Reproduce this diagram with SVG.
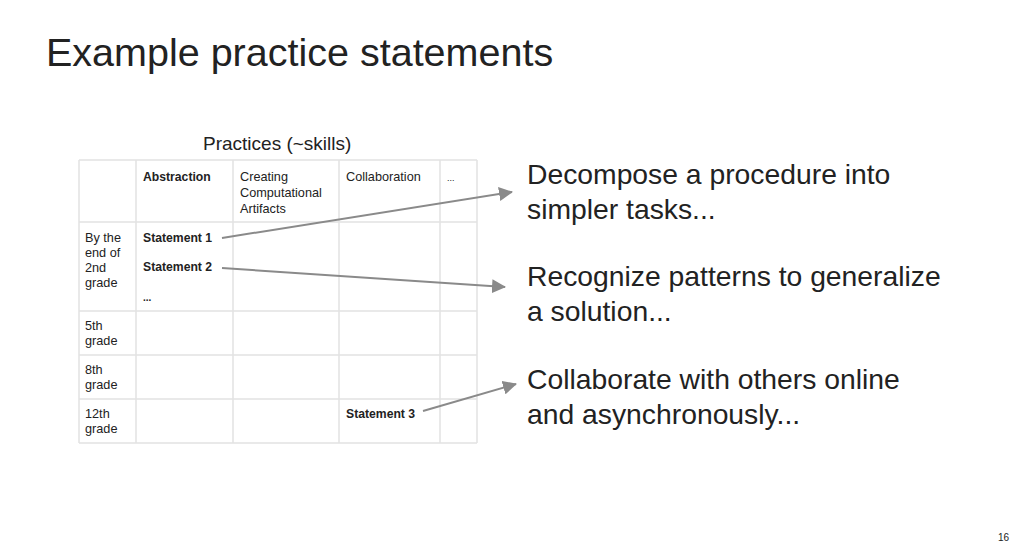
<svg xmlns="http://www.w3.org/2000/svg" width="1024" height="549" viewBox="0 0 1024 549">
<style>
text{font-family:"Liberation Sans",Arial,sans-serif;fill:#222}
.c{font-size:12.7px}
.b{font-size:12.2px;font-weight:bold}
.big{font-size:28.3px}
.g line{stroke:#e2e2e2;stroke-width:1.5}
.conn line{stroke:#8a8a8a;stroke-width:2}
</style>
<defs>
<marker id="ah" markerWidth="14" markerHeight="14" refX="13" refY="7" orient="auto" markerUnits="userSpaceOnUse" viewBox="0 0 14 14"><path d="M0,0L14,7L0,14z" fill="#8a8a8a"/></marker></defs>
<rect width="1024" height="549" fill="#fff"/>
<text x="46" y="66" style="font-size:39.5px">Example practice statements</text>
<text x="203" y="150" style="font-size:19px">Practices (~skills)</text>
<g id="table" class="g">
<line x1="79" y1="160" x2="477" y2="160"/><line x1="79" y1="222" x2="477" y2="222"/><line x1="79" y1="311" x2="477" y2="311"/><line x1="79" y1="355" x2="477" y2="355"/><line x1="79" y1="399" x2="477" y2="399"/><line x1="79" y1="443" x2="477" y2="443"/>
<line x1="79" y1="160" x2="79" y2="443"/><line x1="136" y1="160" x2="136" y2="443"/><line x1="233" y1="160" x2="233" y2="443"/><line x1="339" y1="160" x2="339" y2="443"/><line x1="440" y1="160" x2="440" y2="443"/><line x1="477" y1="160" x2="477" y2="443"/>
</g>
<g id="headers">
<text x="143" y="181" class="b">Abstraction</text>
<text x="240" y="181" class="c">Creating</text><text x="240" y="197" class="c">Computational</text><text x="240" y="213" class="c">Artifacts</text>
<text x="346" y="181" class="c">Collaboration</text>
<text x="447" y="181" class="c" style="font-size:9px">...</text>
</g>
<g id="rows" class="c">
<text x="85" y="242">By the</text><text x="85" y="257">end of</text><text x="85" y="272">2nd</text><text x="85" y="287">grade</text>
<text x="85" y="330">5th</text><text x="85" y="345">grade</text>
<text x="85" y="374">8th</text><text x="85" y="389">grade</text>
<text x="85" y="418">12th</text><text x="85" y="433">grade</text>
</g>
<g id="s1"><text x="143" y="242" class="b">Statement 1</text></g>
<g id="s2"><text x="143" y="271" class="b">Statement 2</text></g>
<text x="143" y="301" class="b" style="font-size:10px">...</text>
<g id="s3"><text x="346" y="418" class="b">Statement 3</text></g>
<g id="d1"><text x="527" y="184" class="big">Decompose a procedure into</text><text x="527" y="219" class="big">simpler tasks...</text></g>
<g id="d2"><text x="527" y="286" class="big">Recognize patterns to generalize</text><text x="527" y="321" class="big">a solution...</text></g>
<g id="d3"><text x="527" y="389" class="big">Collaborate with others online</text><text x="527" y="424" class="big">and asynchronously...</text></g>
<g id="connectors" class="conn">
<line x1="222" y1="238" x2="512" y2="192" marker-end="url(#ah)"/>
<line x1="222" y1="268" x2="505" y2="287" marker-end="url(#ah)"/>
<line x1="423" y1="411" x2="516" y2="384" marker-end="url(#ah)"/>
</g>
<text x="998" y="541" style="font-size:10px">16</text>
</svg>
